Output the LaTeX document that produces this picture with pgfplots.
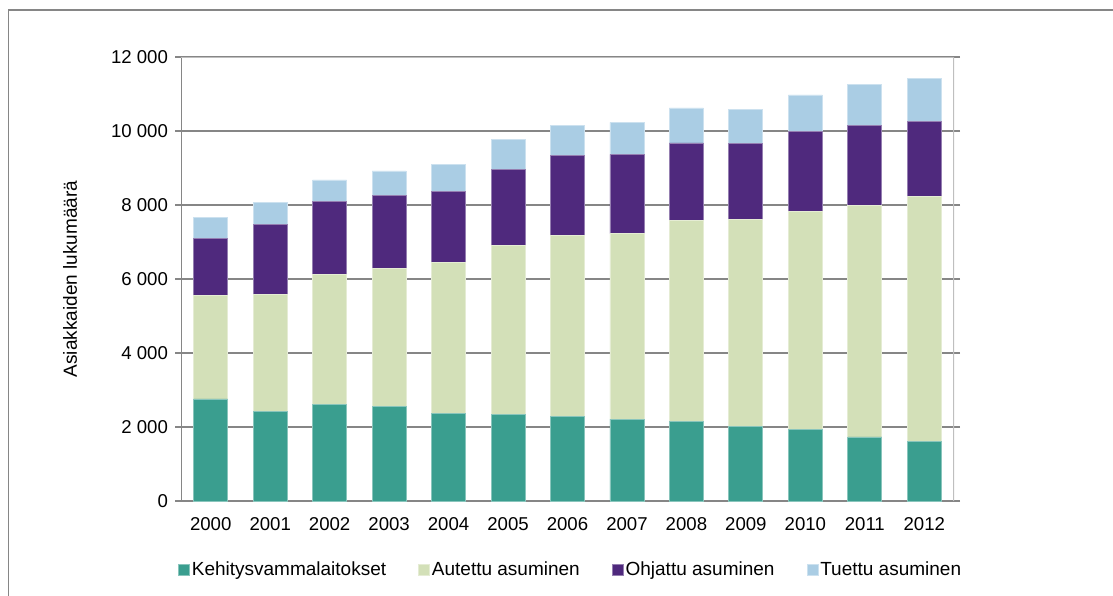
\documentclass[border=0pt]{standalone}
\usepackage{fontspec}
\setmainfont{Liberation Sans}
\usepackage{pgfplots}
\usepackage{pgfplotstable}
\pgfplotsset{compat=1.18}
\definecolor{cK}{RGB}{58,158,143}
\definecolor{cA}{RGB}{211,224,184}
\definecolor{cO}{RGB}{79,41,125}
\definecolor{cT}{RGB}{170,205,228}
\definecolor{gridc}{RGB}{134,134,134}
\definecolor{framec}{RGB}{191,191,191}
\definecolor{outerc}{RGB}{134,134,134}

\pgfplotstableread{
x K A O T
0 2757 2792 1551 557
1 2414 3172 1892 603
2 2613 3513 1964 586
3 2550 3729 1991 649
4 2369 4077 1932 722
5 2342 4568 2063 793
6 2297 4892 2144 829
7 2216 5009 2144 865
8 2144 5433 2099 946
9 2027 5577 2063 919
10 1928 5892 2171 982
11 1730 6270 2162 1108
12 1603 6622 2036 1163
}\data

\begin{document}
\begin{tikzpicture}
\path[use as bounding box] (0pt,0pt) rectangle (556.5pt,297.5pt);
\draw[outerc, line width=0.6pt] (4.2pt,-3pt) -- (4.2pt,292.5pt) -- (560pt,292.5pt);
\begin{axis}[
  at={(90.5pt,47pt)}, anchor=south west, scale only axis,
  width=386.5pt, height=222pt,
  ybar stacked, bar width=17pt,
  xmin=-0.5, xmax=12.5, ymin=0, ymax=12000,
  scaled y ticks=false,
  xtick={0,1,2,3,4,5,6,7,8,9,10,11,12},
  xticklabels={2000,2001,2002,2003,2004,2005,2006,2007,2008,2009,2010,2011,2012},
  ytick={0,2000,4000,6000,8000,10000,12000},
  yticklabels={0,2 000,4 000,6 000,8 000,10 000,12 000},
  ymajorgrids, grid style={gridc, line width=0.6pt},
  axis line style={draw=none},
  tick align=outside, major tick length=3pt,
  xtick style={draw=none}, ytick style={gridc, line width=0.6pt},
  tick label style={font=\fontsize{9.3}{11}\selectfont, text=black},
  xticklabel style={yshift=-1.5pt},
  ylabel={Asiakkaiden lukumäärä},
  ylabel style={at={(axis description cs:-0.1436,0.5)}, anchor=center, font=\fontsize{9.5}{11}\selectfont},
  legend columns=4,
  legend style={at={(0.504,-0.155)}, anchor=center, draw=none, fill=none,
    font=\fontsize{9.5}{11}\selectfont,
    /tikz/every even column/.append style={column sep=15pt},
    nodes={inner sep=1pt}},
  legend cell align=left,
  legend image code/.code={\fill[#1] (0pt,-2.75pt) rectangle (5.5pt,2.75pt);},
]
\addplot[fill=cK, draw=cK!60!white, line width=0.4pt] table[x=x,y=K]{\data};
\addlegendentry{Kehitysvammalaitokset}
\addplot[fill=cA, draw=cA!60!white, line width=0.4pt] table[x=x,y=A]{\data};
\addlegendentry{Autettu asuminen}
\addplot[fill=cO, draw=cO!60!white, line width=0.4pt] table[x=x,y=O]{\data};
\addlegendentry{Ohjattu asuminen}
\addplot[fill=cT, draw=cT!60!white, line width=0.4pt] table[x=x,y=T]{\data};
\addlegendentry{Tuettu asuminen}
\draw[framec, line width=0.6pt] (rel axis cs:0,1) -- (rel axis cs:1,1) -- (rel axis cs:1,0);
\draw[gridc, line width=0.7pt] (rel axis cs:0,1) -- (rel axis cs:0,0) -- (rel axis cs:1,0);
\end{axis}
\end{tikzpicture}
\end{document}
